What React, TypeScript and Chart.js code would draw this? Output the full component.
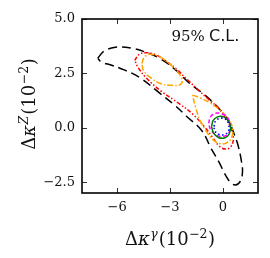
import React, { useEffect, useRef } from "react";
import { Chart, registerables } from "chart.js";

Chart.register(...registerables);

type P = [number, number];

const xTickValues = [-6, -3, 0];
const yTickValues = [-2.5, 0, 2.5, 5];
const xLimits: P = [-8, 2];
const yLimits: P = [-3, 5];

const blackContour: P[] = [
  [-7.1, 3.2], [-6.75, 3.52], [-6.1, 3.7], [-5.2, 3.66], [-4.3, 3.45], [-3.5, 3.15],
  [-2.7, 2.67], [-1.9, 2.05], [-1.2, 1.62], [-0.6, 1.2], [-0.1, 0.77], [0.35, 0.28],
  [0.65, -0.3], [0.88, -0.85], [1.05, -1.5], [1.12, -2.0], [1.0, -2.45], [0.72, -2.63],
  [0.42, -2.5], [0.1, -2.1], [-0.2, -1.6], [-0.65, -0.97], [-1.2, -0.13], [-2.05, 0.52],
  [-2.75, 1.05], [-3.6, 1.6], [-4.7, 2.3], [-5.6, 2.66], [-6.4, 2.9], [-6.9, 3.02],
];

const redContour: P[] = [
  [-5.0, 3.1], [-4.75, 3.38], [-4.35, 3.45], [-3.8, 3.35], [-3.2, 3.05], [-2.6, 2.67],
  [-2.0, 2.2], [-1.37, 1.72], [-0.8, 1.3], [-0.3, 0.95], [0.15, 0.5], [0.45, 0.0],
  [0.6, -0.5], [0.45, -0.88], [0.15, -0.98], [-0.2, -0.85], [-0.6, -0.42], [-1.0, 0.0],
  [-1.7, 0.62], [-2.5, 1.12], [-3.5, 1.68], [-4.3, 2.25], [-4.8, 2.75],
];

const orangeUpper: P[] = [
  [-4.6, 2.95], [-4.45, 3.25], [-4.1, 3.38], [-3.5, 3.22], [-2.9, 2.85], [-2.45, 2.45],
  [-2.3, 2.15], [-2.45, 1.97], [-2.9, 1.95], [-3.5, 2.02], [-4.1, 2.3], [-4.5, 2.62],
];

const orangeLower: P[] = [
  [-1.72, 1.5], [-1.3, 1.38], [-0.7, 1.13], [-0.15, 0.8], [0.3, 0.4], [0.55, 0.0],
  [0.5, -0.45], [0.2, -0.7], [-0.2, -0.72], [-0.6, -0.52], [-0.95, -0.15], [-1.3, 0.35],
  [-1.55, 0.95],
];

const magentaContour: P[] = [
  [-0.8, 0.2], [-0.7, 0.5], [-0.4, 0.67], [0.0, 0.62], [0.32, 0.4], [0.44, 0.05],
  [0.3, -0.28], [0.0, -0.4], [-0.4, -0.32], [-0.7, -0.08],
];

const greenContour: P[] = [
  [-0.64, 0.05], [-0.55, 0.33], [-0.3, 0.5], [0.05, 0.5], [0.32, 0.32], [0.44, 0.0],
  [0.35, -0.3], [0.1, -0.47], [-0.25, -0.45], [-0.52, -0.25],
];

const blueContour: P[] = [
  [-0.5, 0.06], [-0.4, 0.32], [-0.12, 0.44], [0.18, 0.38], [0.34, 0.12], [0.3, -0.18],
  [0.06, -0.32], [-0.24, -0.3], [-0.45, -0.15],
];

const SERIF = '"DejaVu Serif", "Liberation Serif", serif';
const SANS = '"DejaVu Sans", "Liberation Sans", sans-serif';

const closed = (pts: P[]) => [...pts, pts[0]].map(([x, y]) => ({ x, y }));

const ds = (pts: P[], color: string, dash: number[], width: number) => ({
  data: closed(pts),
  showLine: true,
  borderColor: color,
  backgroundColor: color,
  borderWidth: width,
  borderDash: dash,
  pointRadius: 0,
  pointHoverRadius: 0,
  tension: 0.4,
  fill: false,
});

type Run = { t: string; f: string; dy?: number; gap?: number };

function runsWidth(ctx: CanvasRenderingContext2D, runs: Run[]) {
  let w = 0;
  for (const r of runs) {
    ctx.font = r.f;
    w += ctx.measureText(r.t).width + (r.gap || 0);
  }
  return w;
}

function drawRuns(ctx: CanvasRenderingContext2D, runs: Run[], x: number, y: number) {
  let cx = x;
  for (const r of runs) {
    cx += r.gap || 0;
    ctx.font = r.f;
    ctx.fillText(r.t, cx, y + (r.dy || 0));
    cx += ctx.measureText(r.t).width;
  }
}

const xTitleRuns: Run[] = [
  { t: "Δ", f: `18px ${SERIF}` },
  { t: "κ", f: `italic 18px ${SERIF}` },
  { t: "γ", f: `italic 12.5px ${SERIF}`, dy: -7, gap: 0.5 },
  { t: "(10", f: `18px ${SERIF}`, gap: 1 },
  { t: "−2", f: `12.5px ${SERIF}`, dy: -7, gap: 0.5 },
  { t: ")", f: `18px ${SERIF}`, gap: 0.5 },
];

const yTitleRuns: Run[] = [
  { t: "Δ", f: `18px ${SERIF}` },
  { t: "κ", f: `italic 18px ${SERIF}` },
  { t: "Z", f: `italic 12.5px ${SERIF}`, dy: -7, gap: 0.5 },
  { t: "(10", f: `18px ${SERIF}`, gap: 1 },
  { t: "−2", f: `12.5px ${SERIF}`, dy: -7, gap: 0.5 },
  { t: ")", f: `18px ${SERIF}`, gap: 0.5 },
];

const decorPlugin = {
  id: "decor",
  afterDraw(chart: any) {
    const ctx: CanvasRenderingContext2D = chart.ctx;
    const { left, right, top, bottom } = chart.chartArea;
    const xs = chart.scales.x;
    const ys = chart.scales.y;
    ctx.save();
    // inward ticks on all four sides
    ctx.strokeStyle = "#333";
    ctx.lineWidth = 1;
    const tl = 5;
    for (const v of xTickValues) {
      const px = Math.round(xs.getPixelForValue(v)) + 0.5;
      ctx.beginPath();
      ctx.moveTo(px, bottom);
      ctx.lineTo(px, bottom - tl);
      ctx.moveTo(px, top);
      ctx.lineTo(px, top + tl);
      ctx.stroke();
    }
    for (const v of yTickValues) {
      const py = Math.round(ys.getPixelForValue(v)) + 0.5;
      ctx.beginPath();
      ctx.moveTo(left, py);
      ctx.lineTo(left + tl, py);
      ctx.moveTo(right, py);
      ctx.lineTo(right - tl, py);
      ctx.stroke();
    }
    // frame
    ctx.strokeStyle = "#000";
    ctx.lineWidth = 1.6;
    ctx.strokeRect(left, top, right - left, bottom - top);

    ctx.fillStyle = "#111";
    ctx.textBaseline = "alphabetic";
    ctx.textAlign = "left";
    // x title
    const xw = runsWidth(ctx, xTitleRuns);
    drawRuns(ctx, xTitleRuns, (left + right) / 2 - xw / 2, 245);
    // y title
    const yw = runsWidth(ctx, yTitleRuns);
    ctx.save();
    ctx.translate(35, 104);
    ctx.rotate(-Math.PI / 2);
    drawRuns(ctx, yTitleRuns, -yw / 2, 0);
    ctx.restore();
    // annotation
    ctx.font = `15px ${SERIF}`;
    ctx.fillText("95%", 171.5, 40.5);
    ctx.font = `16px ${SANS}`;
    ctx.fillText("C.L.", 209, 40.5);
    ctx.restore();
  },
};

export default function App() {
  const ref = useRef<HTMLCanvasElement>(null);
  useEffect(() => {
    const chart = new Chart(ref.current as HTMLCanvasElement, {
      type: "scatter",
      data: {
        datasets: [
          ds(blueContour, "#0000ff", [1.5, 2.5], 1.6),
          ds(greenContour, "#007a00", [], 1.5),
          ds(magentaContour, "#ff00ff", [4, 2.5], 1.5),
          ds(orangeLower, "#ffa500", [6, 2, 1.5, 2], 1.5),
          ds(orangeUpper, "#ffa500", [6, 2, 1.5, 2], 1.5),
          ds(redContour, "#ff0000", [4, 2, 1.5, 2, 1.5, 2], 1.5),
          ds(blackContour, "#000000", [9, 5], 1.5),
        ] as any,
      },
      plugins: [decorPlugin as any],
      options: {
        animation: false,
        responsive: false,
        devicePixelRatio: 1,
        events: [],
        layout: { padding: { left: 0, top: 19, right: 12, bottom: 0 } },
        plugins: { legend: { display: false }, tooltip: { enabled: false } },
        scales: {
          x: {
            type: "linear",
            min: xLimits[0],
            max: xLimits[1],
            afterBuildTicks: (s: any) => {
              s.ticks = xTickValues.map((v) => ({ value: v }));
            },
            afterFit: (s: any) => {
              s.height = 65;
            },
            grid: { display: false, drawTicks: false },
            border: { display: false },
            ticks: {
              padding: 7,
              maxRotation: 0,
              color: "#111",
              font: { family: SERIF, size: 13 },
              callback: (v: any) => String(v).replace("-", "\u2212"),
            },
          },
          y: {
            type: "linear",
            min: yLimits[0],
            max: yLimits[1],
            afterBuildTicks: (s: any) => {
              s.ticks = yTickValues.map((v) => ({ value: v }));
            },
            afterFit: (s: any) => {
              s.width = 82;
            },
            grid: { display: false, drawTicks: false },
            border: { display: false },
            ticks: {
              padding: 7,
              color: "#111",
              font: { family: SERIF, size: 13 },
              callback: (v: any) => Number(v).toFixed(1).replace("-", "\u2212"),
            },
          },
        },
      } as any,
    });
    return () => chart.destroy();
  }, []);
  return (
    <div style={{ position: "fixed", left: 0, top: 0, width: 270, height: 258, background: "#fff" }}>
      <canvas ref={ref} width={270} height={258} style={{ width: 270, height: 258, display: "block" }} />
    </div>
  );
}
